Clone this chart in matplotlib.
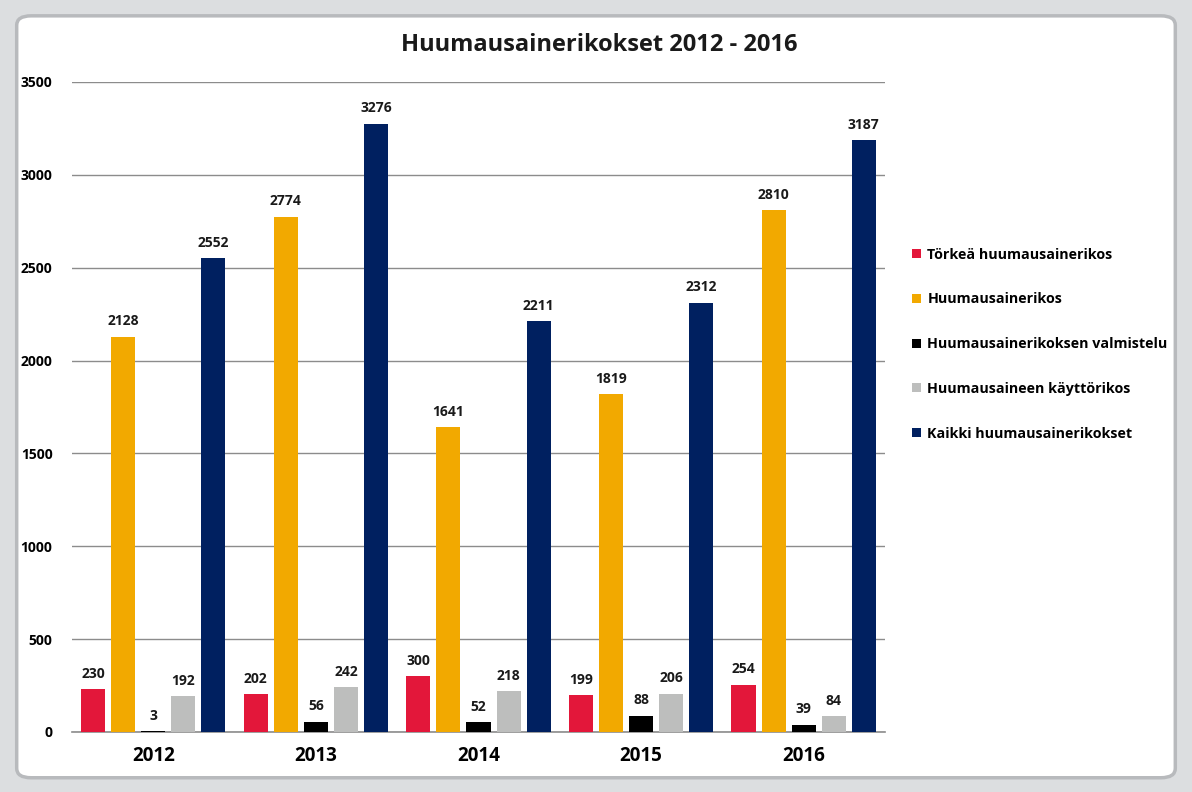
import numpy as np
import matplotlib
matplotlib.use("Agg")
import matplotlib.pyplot as plt
from matplotlib.patches import FancyBboxPatch

years = ["2012", "2013", "2014", "2015", "2016"]
series_names = [
    "Törkeä huumausainerikos",
    "Huumausainerikos",
    "Huumausainerikoksen valmistelu",
    "Huumausaineen käyttörikos",
    "Kaikki huumausainerikokset",
]
torkea = [230, 202, 300, 199, 254]
huumausainerikos = [2128, 2774, 1641, 1819, 2810]
valmistelu = [3, 56, 52, 88, 39]
kayttorikos = [192, 242, 218, 206, 84]
kaikki = [2552, 3276, 2211, 2312, 3187]
colors = ["#E3173A", "#F2A900", "#000000", "#BDBEBD", "#002060"]

plt.rcParams["font.family"] = ["Open Sans", "DejaVu Sans"]

fig = plt.figure(figsize=(11.92, 7.92), dpi=100)
fig.patch.set_facecolor("#DCDEE0")

# outer chart frame, kept behind the axes
frame = FancyBboxPatch((0.014, 0.018), 0.972, 0.962,
                       boxstyle="round,pad=0,rounding_size=0.012",
                       transform=fig.transFigure, facecolor="white",
                       edgecolor="#B8BABD", linewidth=2.5, zorder=-10)
fig.patches.append(frame)

ax = fig.add_axes([0.0604, 0.0758, 0.682, 0.8207])
ax.set_facecolor("none")

data = [torkea, huumausainerikos, valmistelu, kayttorikos, kaikki]
x = np.arange(len(years))
step = 0.185
width = 0.148
for i, (vals, name, col) in enumerate(zip(data, series_names, colors)):
    pos = x + (i - 2) * step
    ax.bar(pos, vals, width=width, color=col, label=name, zorder=3)
    for p, v in zip(pos, vals):
        ax.text(p, v + 45, str(v), ha="center", va="bottom",
                fontsize=10, fontweight="bold", color="#1a1a1a")

ax.set_xlim(-0.5, 4.5)
ax.set_ylim(0, 3500)
ax.set_yticks(np.arange(0, 3501, 500))
ax.yaxis.grid(True, color="#8C8C8C", linewidth=1.0, zorder=0)
ax.set_axisbelow(True)
for s in ["top", "right", "left"]:
    ax.spines[s].set_visible(False)
ax.spines["bottom"].set_color("#8C8C8C")
ax.spines["bottom"].set_linewidth(1.2)
ax.tick_params(axis="y", length=0, pad=14, labelsize=10)
ax.tick_params(axis="x", length=0, pad=10, labelsize=13.5)
for lab in ax.get_yticklabels():
    lab.set_fontweight("bold")
ax.set_xticks(x)
ax.set_xticklabels(years, fontweight="bold")

fig.text(0.503, 0.943, "Huumausainerikokset 2012 - 2016", ha="center",
         va="center", fontsize=17, fontweight="bold", color="#1a1a1a")

leg = ax.legend(loc="upper left", bbox_to_anchor=(1.018, 0.765), frameon=False,
                handlelength=0.6, handleheight=0.6, handletextpad=0.45,
                labelspacing=2.15, fontsize=10.3)
for t in leg.get_texts():
    t.set_fontweight("bold")

fig.savefig("out.png", dpi=100)
